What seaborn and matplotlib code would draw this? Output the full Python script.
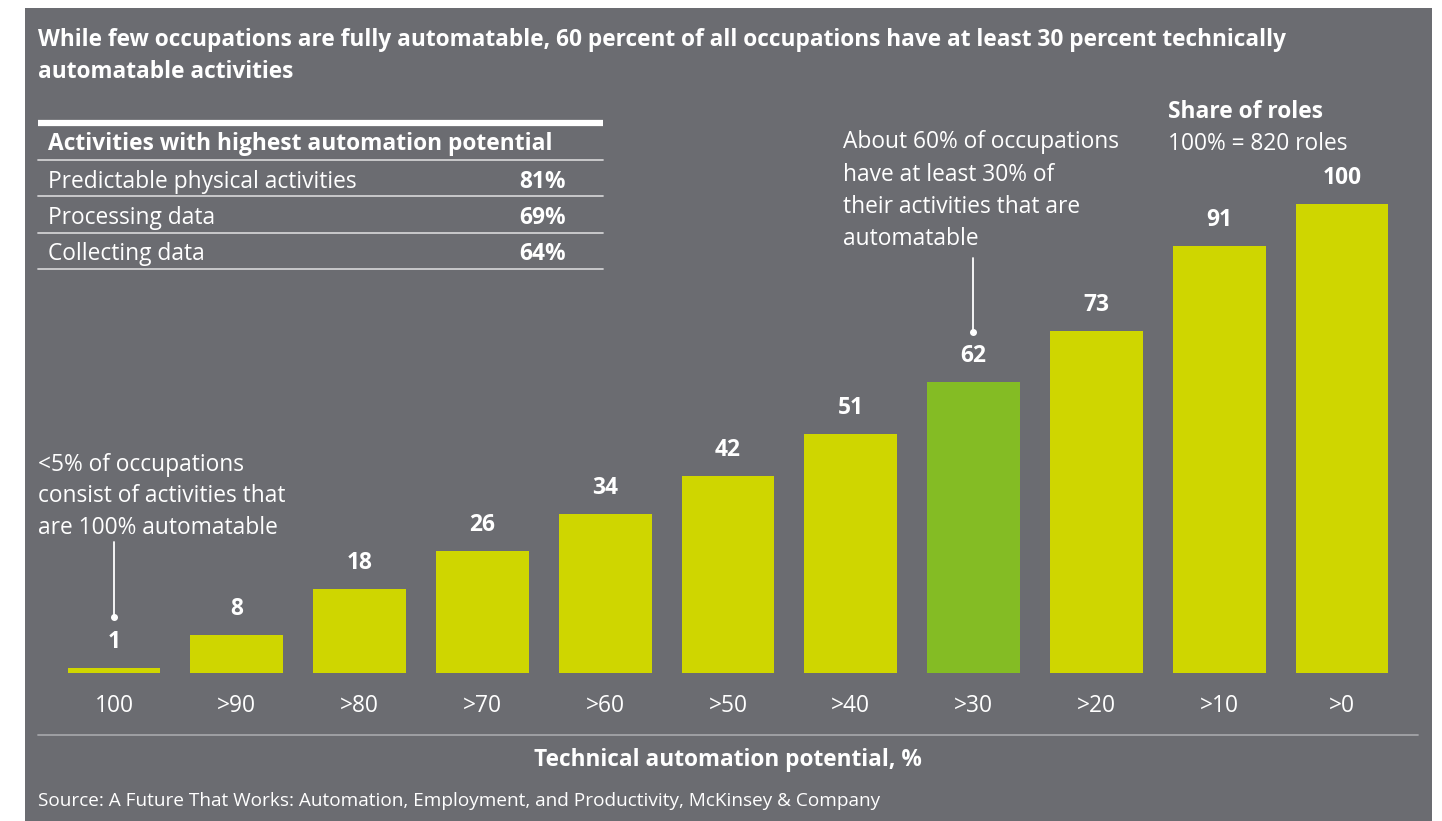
import matplotlib
matplotlib.use("Agg")
import matplotlib.pyplot as plt
import seaborn as sns
from matplotlib.patches import Rectangle
from matplotlib.lines import Line2D

sns.set_theme(style="white")
plt.rcParams['font.family'] = ['Open Sans', 'DejaVu Sans']

# ---- data ----
categories = ["100", ">90", ">80", ">70", ">60", ">50", ">40", ">30", ">20", ">10", ">0"]
share_of_roles = [1, 8, 18, 26, 34, 42, 51, 62, 73, 91, 100]
highlight = ">30"
table_activities = ["Predictable physical activities", "Processing data", "Collecting data"]
table_values = ["81%", "69%", "64%"]

title_lines = ["While few occupations are fully automatable, 60 percent of all occupations have at least 30 percent technically",
               "automatable activities"]
table_header = "Activities with highest automation potential"
note_left = ["<5% of occupations", "consist of activities that", "are 100% automatable"]
note_right = ["About 60% of occupations", "have at least 30% of", "their activities that are", "automatable"]
legend_title = "Share of roles"
legend_sub = "100% = 820 roles"
xlabel = "Technical automation potential, %"
source = "Source: A Future That Works: Automation, Employment, and Productivity, McKinsey & Company"

BG = "#6b6c71"
YELLOW = "#cfd600"
GREEN = "#84bc24"
WHITE = "#ffffff"
LINE = "#a3a4a8"
FS = 16.4
DY = 2.5  # text centring correction (px)

W, H = 1442, 821
fig = plt.figure(figsize=(W / 100, H / 100), dpi=100)
fig.patch.set_facecolor("white")


def fx(x):
    return x / W


def fy(y):
    return 1 - y / H


def txt(x, y, s, ha="left", **kw):
    fig.text(fx(x), fy(y + DY), s, ha=ha, va="center", color=WHITE, **kw)


def lines_text(x, y0, step, lines, **kw):
    for k, t in enumerate(lines):
        txt(x, y0 + step * k, t, **kw)


# gray panel
fig.patches.append(Rectangle((fx(25), 0), fx(1432) - fx(25), fy(8), transform=fig.transFigure,
                             facecolor=BG, edgecolor="none", zorder=-10))

# ---- bar axes ----
base_px, top_px = 673, 204  # y=0 and y=100
ymax = 120
px_per_unit = (base_px - top_px) / 100
ax_top_px = base_px - ymax * px_per_unit
left_px, right_px = 114 - 61.4, 1342 + 61.4
ax = fig.add_axes([fx(left_px), fy(base_px), fx(right_px) - fx(left_px), (base_px - ax_top_px) / H])
ax.set_zorder(5)
ax.set_facecolor("none")
ax.patch.set_alpha(0)
colors = [GREEN if c == highlight else YELLOW for c in categories]
sns.barplot(x=categories, y=share_of_roles, hue=categories, palette=colors, legend=False,
            width=0.757, saturation=1, ax=ax, edgecolor="none", linewidth=0)
ax.set_xlim(-0.5, len(categories) - 0.5)
ax.set_ylim(0, ymax)
for s in ax.spines.values():
    s.set_visible(False)
ax.set_yticks([])
ax.set_xlabel("")
ax.set_ylabel("")
ax.tick_params(axis="x", length=0, pad=15, labelsize=FS, labelcolor=WHITE)

for i, v in enumerate(share_of_roles):
    ax.annotate(str(v), (i, v), xytext=(0, 26 * 72 / 100), textcoords="offset points",
                ha="center", va="center", color=WHITE, fontsize=FS, fontweight="bold")

# ---- title ----
lines_text(38, 38, 32, title_lines, fontsize=16.3, fontweight="bold")

# ---- table ----
fig.add_artist(Line2D([fx(38), fx(603)], [fy(123), fy(123)], color=WHITE, lw=4.5, solid_capstyle="butt"))
for yy in [160, 196, 233, 269]:
    fig.add_artist(Line2D([fx(38), fx(603)], [fy(yy), fy(yy)], color="#d0d0d2", lw=1.3))
txt(48, 142, table_header, fontsize=FS, fontweight="bold")
for k, (name, val) in enumerate(zip(table_activities, table_values)):
    yy = 179 + 36 * k
    txt(48, yy, name, fontsize=FS)
    txt(566, yy, val, ha="right", fontsize=FS, fontweight="bold")

# ---- annotations ----
lines_text(38, 462, 31.5, note_left, fontsize=FS)
fig.add_artist(Line2D([fx(114), fx(114)], [fy(542), fy(617)], color=WHITE, lw=1.3))
fig.add_artist(Line2D([fx(114)], [fy(617)], color=WHITE, marker="o", markersize=4, lw=0))

lines_text(843, 140, 32.3, note_right, fontsize=FS)
fig.add_artist(Line2D([fx(973), fx(973)], [fy(258), fy(332)], color=WHITE, lw=1.3))
fig.add_artist(Line2D([fx(973)], [fy(332)], color=WHITE, marker="o", markersize=4, lw=0))

txt(1168, 110, legend_title, fontsize=FS, fontweight="bold")
txt(1168, 141, legend_sub, fontsize=FS)

# ---- bottom ----
fig.add_artist(Line2D([fx(38), fx(1418)], [fy(735), fy(735)], color=LINE, lw=1.3))
txt(728, 757, xlabel, ha="center", fontsize=16.3, fontweight="bold")
txt(38, 798, source, fontsize=13.7)

fig.savefig("out.png", dpi=100, facecolor=fig.get_facecolor())
